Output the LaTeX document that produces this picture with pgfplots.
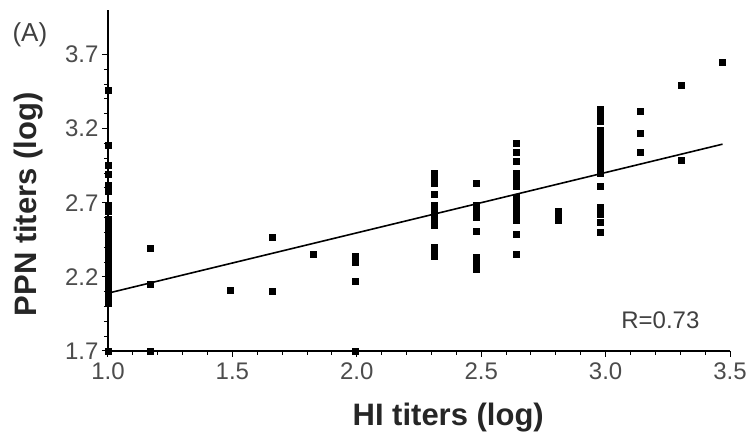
\documentclass[border=0pt]{standalone}
\usepackage{fontspec}
\setmainfont{Liberation Sans}
\usepackage{pgfplots}
\pgfplotsset{compat=1.18}
\usepackage{pgfplotstable}
\pgfplotstableread{
x y
1.0 3.46
1.0 3.09
1.0 2.95
1.0 2.89
1.0 2.82
1.0 2.78
1.0 2.68
1.0 2.64
1.0 2.59
1.0 2.56
1.0 2.53
1.0 2.50
1.0 2.47
1.0 2.44
1.0 2.41
1.0 2.38
1.0 2.35
1.0 2.32
1.0 2.29
1.0 2.26
1.0 2.23
1.0 2.20
1.0 2.17
1.0 2.14
1.0 2.11
1.0 2.08
1.0 2.05
1.0 2.02
1.0 1.70
1.17 2.39
1.17 2.15
1.17 1.70
1.49 2.11
1.66 2.47
1.66 2.10
1.825 2.35
1.995 2.34
1.995 2.30
1.995 2.17
1.995 1.70
2.31 2.90
2.31 2.875
2.31 2.83
2.31 2.76
2.31 2.68
2.31 2.64
2.31 2.61
2.31 2.59
2.31 2.55
2.31 2.40
2.31 2.36
2.31 2.34
2.48 2.83
2.48 2.68
2.48 2.64
2.48 2.60
2.48 2.51
2.48 2.33
2.48 2.29
2.48 2.25
2.64 3.10
2.64 3.04
2.64 2.98
2.64 2.90
2.64 2.85
2.64 2.81
2.64 2.74
2.64 2.70
2.64 2.66
2.64 2.62
2.64 2.58
2.64 2.49
2.64 2.35
2.81 2.64
2.81 2.61
2.81 2.58
2.98 3.33
2.98 3.30
2.98 3.27
2.98 3.25
2.98 3.19
2.98 3.16
2.98 3.13
2.98 3.11
2.98 3.08
2.98 3.05
2.98 3.02
2.98 2.99
2.98 2.96
2.98 2.93
2.98 2.90
2.98 2.81
2.98 2.67
2.98 2.62
2.98 2.57
2.98 2.50
3.14 3.32
3.14 3.17
3.14 3.04
3.305 3.49
3.305 2.99
3.47 3.65
}\pointdata
\begin{document}
\begin{tikzpicture}
\begin{axis}[
  scale only axis, width=622pt, height=341pt,
  at={(0,0)}, anchor=south west,
  xmin=1, xmax=3.5, ymin=1.7, ymax=4.0,
  axis x line*=bottom, axis y line*=left,
  xtick={1,1.5,2,2.5,3,3.5}, minor x tick num=4,
  ytick={1.7,2.2,2.7,3.2,3.7}, minor y tick num=4,
  tick align=outside, major tick length=6pt, minor tick length=4pt,
  tick style={black, line width=1pt},
  axis line style={line width=1.5pt},
  /pgf/number format/assume math mode=true,
  /pgf/number format/.cd, fixed, fixed zerofill, precision=1, /pgfplots/.cd,
  ticklabel style={font=\fontsize{24}{28}\selectfont, text=black!70},
  xticklabel style={yshift=-2pt},
  xlabel={\textbf{HI titers (log)}},
  ylabel={\textbf{PPN titers (log)}},
  xlabel style={at={(axis description cs:0.547,-0.196)}, anchor=center, font=\fontsize{31}{35}\selectfont, text=black!85},
  ylabel style={at={(axis description cs:-0.128,0.43)}, anchor=center, font=\fontsize{31}{35}\selectfont, text=black!85},
  clip=false,
]
\addplot[only marks, mark=square*, mark size=3pt, black] table[x=x, y=y] {\pointdata};
\addplot[black, line width=1.6pt] coordinates {(1,2.09) (3.47,3.095)};
\node[font=\fontsize{24}{28}\selectfont, text=black!75] at (axis cs:3.22,1.91) {R=0.73};
\node[font=\fontsize{26}{30}\selectfont, text=black!75] at (axis cs:0.686,3.83) {(A)};
\end{axis}
\pgfresetboundingbox
\path (-108pt,-84pt) rectangle (643pt,351pt);
\end{tikzpicture}
\end{document}
